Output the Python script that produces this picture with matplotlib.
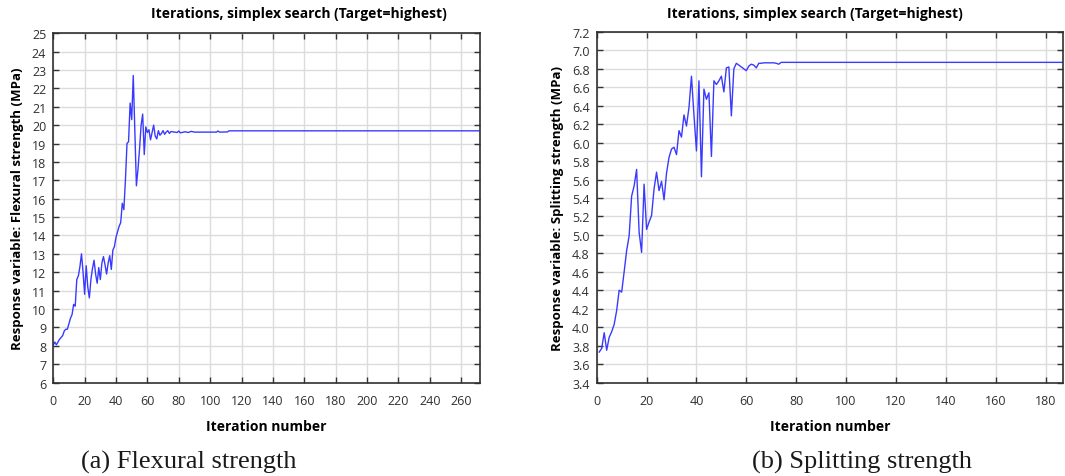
import matplotlib
matplotlib.use("Agg")
import matplotlib.pyplot as plt
import numpy as np
from matplotlib.ticker import MultipleLocator, FormatStrFormatter

# flexural strength search history (MPa)
flex_iter = list(range(0, 76)) + [79, 80, 81, 84, 86, 88, 90, 104, 105, 106, 111, 112, 272]
flex_val = [8.05, 8.2, 8.05, 8.2, 8.35, 8.45, 8.55, 8.8, 8.9, 8.9,
            9.2, 9.5, 9.7, 10.25, 10.15, 11.6, 11.8, 12.3, 13.0, 12.0,
            10.8, 12.35, 11.2, 10.6, 11.6, 12.2, 12.65, 11.9, 11.4, 12.25,
            11.6, 12.5, 12.85, 12.4, 11.9, 12.5, 12.9, 12.15, 13.2, 13.4,
            13.9, 14.2, 14.5, 14.7, 15.75, 15.4, 17.0, 19.0, 19.1, 21.2,
            20.3, 22.7, 19.7, 16.7, 17.6, 18.7, 20.0, 20.6, 18.4, 19.9,
            19.6, 19.75, 19.2, 19.6, 20.0, 19.4, 19.25, 19.7, 19.45, 19.55,
            19.7, 19.5, 19.62, 19.7, 19.55, 19.65,
            19.6, 19.68, 19.58, 19.64, 19.6, 19.66, 19.62, 19.62, 19.68, 19.62,
            19.63, 19.69, 19.69]

# splitting strength search history (MPa)
split_iter = list(range(1, 76)) + [187]
split_val = [3.73, 3.77, 3.94, 3.75, 3.89, 3.95, 4.03, 4.18, 4.40, 4.38,
             4.60, 4.83, 4.99, 5.42, 5.53, 5.71, 5.03, 4.81, 5.55, 5.06,
             5.14, 5.21, 5.50, 5.68, 5.48, 5.58, 5.38, 5.67, 5.84, 5.93,
             5.95, 5.87, 6.13, 6.06, 6.30, 6.18, 6.38, 6.72, 6.30, 5.91,
             6.67, 5.63, 6.58, 6.47, 6.54, 5.85, 6.67, 6.63, 6.67, 6.72,
             6.55, 6.81, 6.82, 6.29, 6.80, 6.86, 6.84, 6.82, 6.80, 6.78,
             6.83, 6.85, 6.84, 6.81, 6.86, 6.86, 6.865, 6.865, 6.865, 6.865,
             6.865, 6.86, 6.85, 6.87, 6.87, 6.87]

title = "Iterations, simplex search (Target=highest)"
line_color = "#3a3aff"
ui_font = ["Open Sans", "DejaVu Sans"]
serif_font = ["Liberation Serif", "DejaVu Serif"]

fig = plt.figure(figsize=(10.65, 4.77), dpi=100)
ax1 = fig.add_axes([0.050, 0.196, 0.4007, 0.7323])
ax2 = fig.add_axes([0.5603, 0.196, 0.4378, 0.7350])


def style(ax):
    ax.grid(True, color="#dcdcdc", linewidth=1.0)
    ax.set_axisbelow(True)
    ax.tick_params(direction="in", length=4, width=1, color="#333333",
                   top=True, right=True, labelsize=9, labelcolor="#303030")
    ax.tick_params(axis="x", pad=8)
    ax.tick_params(axis="y", pad=5)
    for lab in ax.get_xticklabels() + ax.get_yticklabels():
        lab.set_family(ui_font)
    for s in ax.spines.values():
        s.set_color("#303030")
        s.set_linewidth(1.2)


ax1.plot(flex_iter, flex_val, color=line_color, linewidth=1.0)
ax1.set_xlim(0, 272)
ax1.set_ylim(6, 25)
ax1.xaxis.set_major_locator(MultipleLocator(20))
ax1.yaxis.set_major_locator(MultipleLocator(1))
style(ax1)
ax1.set_xlabel("Iteration number", fontsize=10, fontweight="bold", family=ui_font, labelpad=9)
ax1.set_ylabel("Response variable: Flexural strength (MPa)", fontsize=9.5,
               fontweight="bold", family=ui_font, labelpad=6)

ax2.plot(split_iter, split_val, color=line_color, linewidth=1.0)
ax2.set_xlim(0, 187)
ax2.set_ylim(3.4, 7.2)
ax2.xaxis.set_major_locator(MultipleLocator(20))
ax2.yaxis.set_major_locator(MultipleLocator(0.2))
ax2.yaxis.set_major_formatter(FormatStrFormatter("%.1f"))
style(ax2)
ax2.set_xlabel("Iteration number", fontsize=10, fontweight="bold", family=ui_font, labelpad=9)
ax2.set_ylabel("Response variable: Splitting strength (MPa)", fontsize=9.5,
               fontweight="bold", family=ui_font, labelpad=6)

fig.text(299 / 1065, 1 - 14 / 477, title, ha="center", va="center",
         fontsize=10, fontweight="bold", family=ui_font)
fig.text(815 / 1065, 1 - 14 / 477, title, ha="center", va="center",
         fontsize=10, fontweight="bold", family=ui_font)

fig.text(189 / 1065, 1 - 462 / 477, "(a) Flexural strength", ha="center", va="center",
         fontsize=19, family=serif_font, color="#1a1a1a")
fig.text(862 / 1065, 1 - 462 / 477, "(b) Splitting strength", ha="center", va="center",
         fontsize=19, family=serif_font, color="#1a1a1a")

fig.savefig("out.png", dpi=100)
